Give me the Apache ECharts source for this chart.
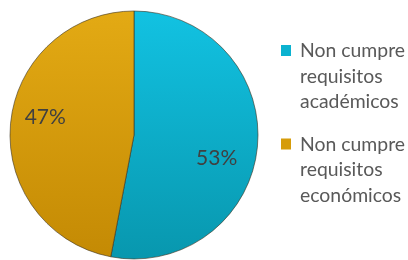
<!DOCTYPE html>
<html><head><meta charset="utf-8">
<style>html,body{margin:0;padding:0;background:#fff}#c{width:408px;height:260px}</style>
<script src="https://cdn.jsdelivr.net/npm/echarts@6/dist/echarts.min.js"></script>
</head><body><div id="c"></div>
<script>
const categories = ['Non cumpre\nrequisitos\nacadémicos', 'Non cumpre\nrequisitos\neconómicos'];
const values = [53, 47];
const colorsTop = ['#12c2e2', '#e3aa14'];
const colorsMid = ['#0bb2d0', '#d69c0a'];
const colorsBottom = ['#0897ae', '#c48a04'];

const chart = echarts.init(document.getElementById('c'), null, {renderer: 'canvas'});
const offsets = [[18, 17], [-24, -12]];
const iconPath = 'path://M0,0h0.01v0.01h-0.01z M0,7h10v11h-10z M13.99,76.49h0.01v0.01h-0.01z';
chart.setOption({
  animation: false,
  legend: {
    orient: 'vertical',
    left: 281,
    top: 38,
    padding: 0,
    itemWidth: 14,
    itemHeight: 76.5,
    itemGap: 17,
    icon: iconPath,
    itemStyle: {borderWidth: 0},
    textStyle: {fontFamily: 'Lato', fontSize: 19.4, color: '#595959', lineHeight: 25.5},
    data: categories.map((c, i) => ({name: c, itemStyle: {color: colorsMid[i], borderWidth: 0}}))
  },
  series: [{
    type: 'pie',
    center: [134, 135],
    radius: [0, 124],
    startAngle: 90,
    clockwise: true,
    label: {show: true, position: 'inside', formatter: '{c}%', fontFamily: 'Lato', fontSize: 21, color: '#404040'},
    labelLine: {show: false},
    data: values.map((v, i) => ({
      name: categories[i], value: v,
      label: {offset: offsets[i]},
      itemStyle: {
        color: new echarts.graphic.LinearGradient(0, 0, 0, 1, [{offset: 0, color: colorsTop[i]}, {offset: 1, color: colorsBottom[i]}]),
        borderColor: 'rgba(60,50,30,0.6)', borderWidth: 1
      }
    }))
  }]
});
</script></body></html>
